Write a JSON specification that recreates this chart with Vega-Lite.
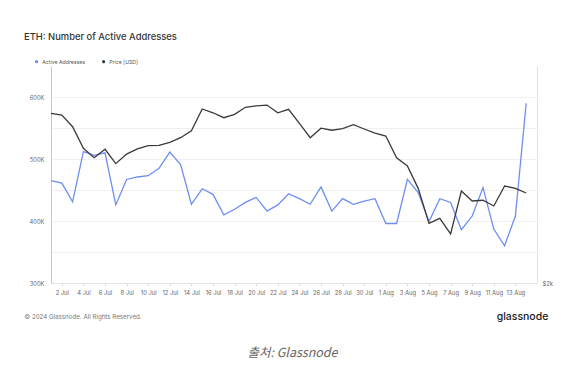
{
  "$schema": "https://vega.github.io/schema/vega-lite/v6.json",
  "width": 486,
  "height": 217,
  "autosize": "none",
  "padding": {"left": 51, "top": 66, "right": 44, "bottom": 86},
  "background": "white",
  "config": {"view": {"stroke": null}, "font": "Inter"},
  "title": {"text": "ETH: Number of Active Addresses", "anchor": "start", "frame": "group", "dx": -27, "offset": 17, "fontSize": 9.4, "fontWeight": 500, "color": "#333333"},
  "data": {
    "values": [
      {"date": "2024-07-01", "active": 465000, "price": 3439},
      {"date": "2024-07-02", "active": 461000, "price": 3420},
      {"date": "2024-07-03", "active": 431000, "price": 3295},
      {"date": "2024-07-04", "active": 512000, "price": 3075},
      {"date": "2024-07-05", "active": 506000, "price": 2984},
      {"date": "2024-07-06", "active": 510000, "price": 3066},
      {"date": "2024-07-07", "active": 426000, "price": 2928},
      {"date": "2024-07-08", "active": 467000, "price": 3019},
      {"date": "2024-07-09", "active": 471000, "price": 3069},
      {"date": "2024-07-10", "active": 473000, "price": 3101},
      {"date": "2024-07-11", "active": 485000, "price": 3105},
      {"date": "2024-07-12", "active": 511000, "price": 3135},
      {"date": "2024-07-13", "active": 491000, "price": 3181},
      {"date": "2024-07-14", "active": 427000, "price": 3253},
      {"date": "2024-07-15", "active": 452000, "price": 3487},
      {"date": "2024-07-16", "active": 443000, "price": 3445},
      {"date": "2024-07-17", "active": 410000, "price": 3391},
      {"date": "2024-07-18", "active": 419000, "price": 3427},
      {"date": "2024-07-19", "active": 430000, "price": 3506},
      {"date": "2024-07-20", "active": 438000, "price": 3521},
      {"date": "2024-07-21", "active": 416000, "price": 3531},
      {"date": "2024-07-22", "active": 426000, "price": 3445},
      {"date": "2024-07-23", "active": 444000, "price": 3483},
      {"date": "2024-07-24", "active": 436000, "price": 3331},
      {"date": "2024-07-25", "active": 427000, "price": 3181},
      {"date": "2024-07-26", "active": 455000, "price": 3279},
      {"date": "2024-07-27", "active": 416000, "price": 3258},
      {"date": "2024-07-28", "active": 436000, "price": 3274},
      {"date": "2024-07-29", "active": 427000, "price": 3316},
      {"date": "2024-07-30", "active": 432000, "price": 3271},
      {"date": "2024-07-31", "active": 436000, "price": 3229},
      {"date": "2024-08-01", "active": 396000, "price": 3198},
      {"date": "2024-08-02", "active": 396000, "price": 2984},
      {"date": "2024-08-03", "active": 467000, "price": 2906},
      {"date": "2024-08-04", "active": 446000, "price": 2706},
      {"date": "2024-08-05", "active": 399000, "price": 2420},
      {"date": "2024-08-06", "active": 436000, "price": 2459},
      {"date": "2024-08-07", "active": 430000, "price": 2339},
      {"date": "2024-08-08", "active": 386000, "price": 2683},
      {"date": "2024-08-09", "active": 408000, "price": 2599},
      {"date": "2024-08-10", "active": 454000, "price": 2605},
      {"date": "2024-08-11", "active": 387000, "price": 2558},
      {"date": "2024-08-12", "active": 360000, "price": 2726},
      {"date": "2024-08-13", "active": 408000, "price": 2706},
      {"date": "2024-08-14", "active": 590000, "price": 2666}
    ],
    "format": {"parse": {"date": "utc:'%Y-%m-%d'"}}
  },
  "encoding": {
    "x": {
      "field": "date",
      "type": "temporal",
      "scale": {"type": "utc", "domain": [{"year": 2024, "month": 7, "date": 1, "utc": true}, {"year": 2024, "month": 8, "date": 15, "utc": true}]},
      "axis": {
        "values": [
          {"year": 2024, "month": 7, "date": 2, "utc": true},
          {"year": 2024, "month": 7, "date": 4, "utc": true},
          {"year": 2024, "month": 7, "date": 6, "utc": true},
          {"year": 2024, "month": 7, "date": 8, "utc": true},
          {"year": 2024, "month": 7, "date": 10, "utc": true},
          {"year": 2024, "month": 7, "date": 12, "utc": true},
          {"year": 2024, "month": 7, "date": 14, "utc": true},
          {"year": 2024, "month": 7, "date": 16, "utc": true},
          {"year": 2024, "month": 7, "date": 18, "utc": true},
          {"year": 2024, "month": 7, "date": 20, "utc": true},
          {"year": 2024, "month": 7, "date": 22, "utc": true},
          {"year": 2024, "month": 7, "date": 24, "utc": true},
          {"year": 2024, "month": 7, "date": 26, "utc": true},
          {"year": 2024, "month": 7, "date": 28, "utc": true},
          {"year": 2024, "month": 7, "date": 30, "utc": true},
          {"year": 2024, "month": 8, "date": 1, "utc": true},
          {"year": 2024, "month": 8, "date": 3, "utc": true},
          {"year": 2024, "month": 8, "date": 5, "utc": true},
          {"year": 2024, "month": 8, "date": 7, "utc": true},
          {"year": 2024, "month": 8, "date": 9, "utc": true},
          {"year": 2024, "month": 8, "date": 11, "utc": true},
          {"year": 2024, "month": 8, "date": 13, "utc": true}
        ],
        "labelExpr": "utcFormat(datum.value, '%-d %b')",
        "labelFontSize": 5.8,
        "labelColor": "#666666",
        "labelPadding": 3,
        "labelFlush": false,
        "ticks": true,
        "tickSize": 3,
        "tickColor": "#dddddd",
        "domain": true,
        "domainColor": "#e4e4e4",
        "grid": false,
        "title": "© 2024 Glassnode. All Rights Reserved.",
        "titleX": -27,
        "titleY": 33,
        "titleAlign": "left",
        "titleBaseline": "middle",
        "titleFontSize": 6.2,
        "titleFontWeight": "normal",
        "titleColor": "#777777"
      }
    }
  },
  "layer": [
    {
      "mark": {"type": "line", "strokeWidth": 1.3},
      "encoding": {
        "y": {
          "field": "active",
          "type": "quantitative",
          "scale": {"domain": [300000, 650000], "nice": false, "zero": false},
          "axis": {
            "orient": "left",
            "values": [300000, 350000, 400000, 450000, 500000, 550000, 600000],
            "labelExpr": "datum.value % 100000 == 0 ? (datum.value / 1000) + 'K' : ''",
            "labelFontSize": 5.8,
            "labelColor": "#666666",
            "labelPadding": 7,
            "ticks": false,
            "grid": true,
            "gridColor": "#f0f0f0",
            "domain": true,
            "domainColor": "#b7c6f7",
            "title": "출처: Glassnode",
            "titleAngle": 0,
            "titleX": 241,
            "titleY": 286,
            "titleAlign": "center",
            "titleBaseline": "middle",
            "titleFont": "Noto Sans CJK KR",
            "titleFontSize": 12.5,
            "titleFontStyle": "italic",
            "titleFontWeight": "normal",
            "titleColor": "#666666"
          }
        },
        "color": {
          "datum": "Active Addresses",
          "scale": {"domain": ["Active Addresses", "Price [USD]"], "range": ["#6e8ef0", "#3a3a3a"]},
          "legend": {
            "orient": "none",
            "legendX": -17,
            "legendY": -7,
            "direction": "horizontal",
            "title": null,
            "symbolType": "circle",
            "symbolSize": 10,
            "labelFontSize": 5.2,
            "labelColor": "#555555",
            "columnPadding": 15,
            "labelOffset": 3,
            "encode": {"symbols": {"update": {"fill": {"scale": "color", "field": "value"}, "strokeWidth": {"value": 0}}}}
          }
        }
      }
    },
    {
      "mark": {"type": "line", "strokeWidth": 1.3},
      "encoding": {
        "y": {
          "field": "price",
          "type": "quantitative",
          "scale": {"type": "log", "domain": [2000, 4000], "nice": false},
          "axis": {
            "orient": "right",
            "values": [2000],
            "labelExpr": "'$2k'",
            "labelFontSize": 5.8,
            "labelColor": "#666666",
            "labelPadding": 5,
            "ticks": false,
            "grid": false,
            "domain": true,
            "domainColor": "#e2e2e2",
            "title": "glassnode",
            "titleAngle": 0,
            "titleX": -15,
            "titleY": 250,
            "titleAlign": "center",
            "titleBaseline": "middle",
            "titleFont": "Inter",
            "titleFontSize": 10.5,
            "titleFontWeight": 500,
            "titleColor": "#222222"
          }
        },
        "color": {"datum": "Price [USD]"}
      }
    }
  ],
  "resolve": {"scale": {"y": "independent"}}
}
